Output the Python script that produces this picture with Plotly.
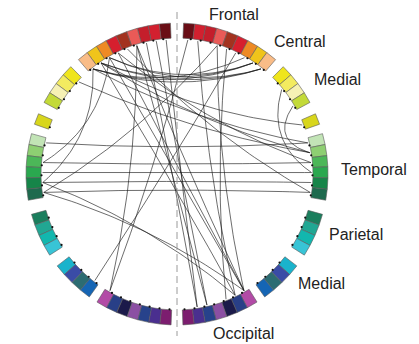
import numpy as np
import plotly.graph_objects as go

# Lobe groups, ordered from the top midline down to the bottom midline (same on both hemispheres)
group_names = ["Frontal", "Central", "Medial", "Temporal", "Parietal", "Medial", "Occipital"]
group_colors = [
    ["#6a0e16", "#d2202f", "#c41e2b", "#e95a57", "#a3321f", "#d61f2e", "#ee8a24", "#f0c41b", "#f9bc87"],
    ["#efe51c", "#f3eb60", "#f6f1b4", "#c3da38"],
    ["#d8d61c"],
    ["#c2e4b6", "#8ecf72", "#4cb758", "#2aa84f", "#168549", "#1e6a4e"],
    ["#1b7e5d", "#21a793", "#12b7ae", "#38c4d6"],
    ["#1ab3cc", "#3a4ca6", "#2c6c72", "#1565b4"],
    ["#b24ba6", "#283f87", "#1b1a4a", "#8b4fa3", "#27428b", "#4a2f8f", "#7c1d6f"],
]

# Connections between regions: "L"/"R" hemisphere + region index (0 = top midline)
chord_from = ["L8", "L8", "L7", "L7", "L6", "L8", "L6",
              "L3", "L5", "L7", "L6",
              "L1", "L2", "L3", "L0",
              "L8", "L7", "L9", "L7", "L5",
              "R12", "R3", "R1", "R10",
              "L17", "L16", "L18", "L19", "L19", "L18",
              "L6", "L8", "L28",
              "L27", "L19", "R0", "L14", "R4", "L4"]
chord_to = ["R8", "R7", "R8", "R7", "R8", "R6", "R7",
            "R28", "R28", "R29", "R28",
            "R32", "R33", "R32", "R33",
            "R14", "R15", "R15", "R13", "R16",
            "R15", "R28", "R29", "R17",
            "R17", "R16", "R18", "R19", "R28", "R29",
            "L16", "L18", "L3",
            "R5", "R3", "L28", "R14", "R30", "R19"]

# Layout of the ring (angles in degrees clockwise from the top)
group_start = [2.5, 44.7, 66.5, 74.5, 105.5, 127.5, 148.0]
box_width = 4.25
r_out, r_in = 151.0, 136.0
r_dot = 134.5

box_angle = []  # (start, end) for each region index
for start, cols in zip(group_start, group_colors):
    for k in range(len(cols)):
        a0 = start + k * box_width
        box_angle.append((a0, a0 + box_width))
colors_flat = [c for cols in group_colors for c in cols]


def polar(r, theta_deg):
    t = np.radians(theta_deg)
    return r * np.sin(t), r * np.cos(t)


def node_angle(name):
    side, idx = name[0], int(name[1:])
    a0, a1 = box_angle[idx]
    mid = 0.5 * (a0 + a1)
    return -mid if side == "L" else mid


fig = go.Figure()

# Chords as quadratic curves pulled slightly towards the centre
cx, cy = [], []
for a, b in zip(chord_from, chord_to):
    p0 = np.array(polar(r_dot, node_angle(a)))
    p2 = np.array(polar(r_dot, node_angle(b)))
    ctrl = 0.75 * 0.5 * (p0 + p2)
    t = np.linspace(0, 1, 40)[:, None]
    pts = (1 - t) ** 2 * p0 + 2 * (1 - t) * t * ctrl + t ** 2 * p2
    cx += list(pts[:, 0]) + [None]
    cy += list(pts[:, 1]) + [None]
fig.add_trace(go.Scatter(x=cx, y=cy, mode="lines",
                         line=dict(color="rgba(25,25,25,0.85)", width=0.75),
                         hoverinfo="skip"))

# Region boxes on both hemispheres
for sign in (-1, 1):
    for (a0, a1), col in zip(box_angle, colors_flat):
        th = np.linspace(a0, a1, 12)
        xo, yo = polar(r_out, sign * th)
        xi, yi = polar(r_in, sign * th[::-1])
        fig.add_trace(go.Scatter(
            x=list(xo) + list(xi) + [xo[0]], y=list(yo) + list(yi) + [yo[0]],
            mode="lines", fill="toself", fillcolor=col,
            line=dict(color="#5a5a5a", width=0.6), hoverinfo="skip"))

# Small markers at the inner edge of every region
dx, dy = [], []
for sign in (-1, 1):
    for a0, a1 in box_angle:
        x, y = polar(r_dot + 1.0, sign * (0.5 * (a0 + a1) + 1.2))
        dx.append(x)
        dy.append(y)
fig.add_trace(go.Scatter(x=dx, y=dy, mode="markers",
                         marker=dict(color="#111111", size=2.2), hoverinfo="skip"))

# Midline separating the hemispheres
fig.add_shape(type="line", x0=0, x1=0, y0=162, y1=-162,
              line=dict(color="#9a9a9a", width=1, dash="7px,4px"))

# Lobe labels on the right hemisphere
label_pos = [(30, 160), (95, 133), (135, 95), (162, 5), (150, -60), (119, -109), (34, -159)]
for name, (lx, ly) in zip(group_names, label_pos):
    fig.add_annotation(x=lx, y=ly, text=name, showarrow=False, xanchor="left", yanchor="middle",
                       font=dict(family="Liberation Sans, Arial, sans-serif", size=16, color="#222222"))

fig.update_layout(
    width=419, height=344, margin=dict(l=0, r=0, t=0, b=0),
    paper_bgcolor="white", plot_bgcolor="white", showlegend=False,
    xaxis=dict(range=[-177, 242], visible=False, fixedrange=True),
    yaxis=dict(range=[-170, 174], visible=False, fixedrange=True),
)

fig.write_html("out.html")
